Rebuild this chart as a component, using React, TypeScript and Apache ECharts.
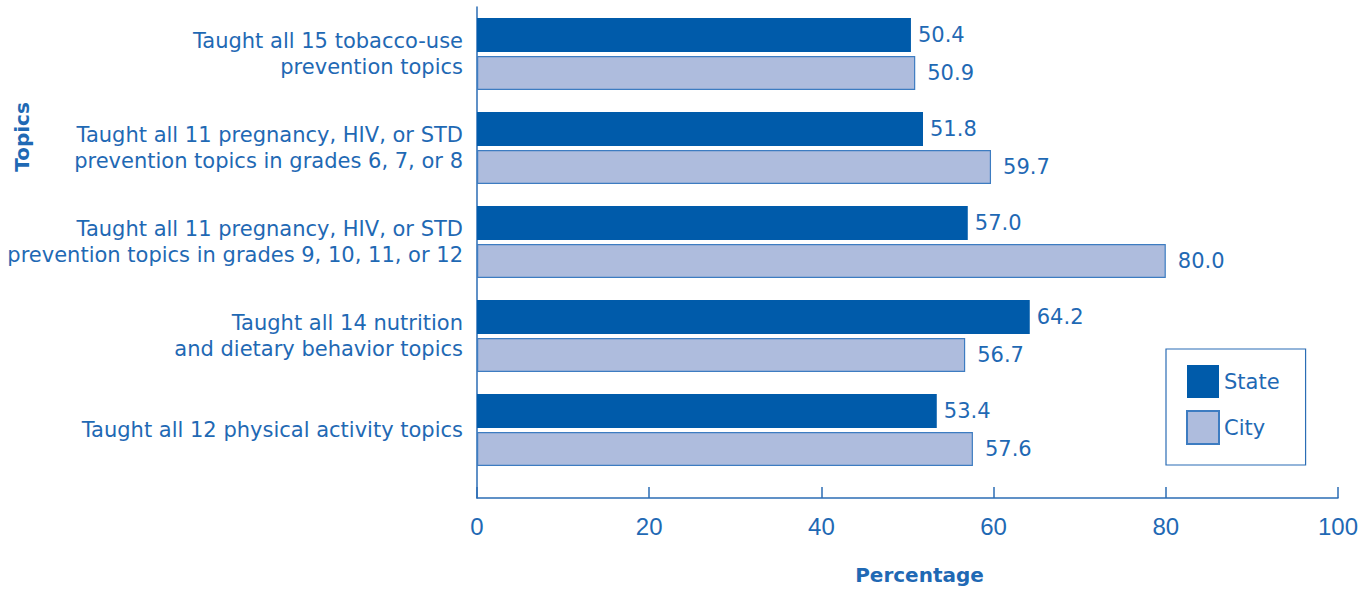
import React, { useEffect, useRef } from "react";
import * as echarts from "echarts";

const topics = [
  "Taught all 15 tobacco-use\nprevention topics",
  "Taught all 11 pregnancy, HIV, or STD\nprevention topics in grades 6, 7, or 8",
  "Taught all 11 pregnancy, HIV, or STD\nprevention topics in grades 9, 10, 11, or 12",
  "Taught all 14 nutrition\nand dietary behavior topics",
  "Taught all 12 physical activity topics",
];
const stateValues = [50.4, 51.8, 57.0, 64.2, 53.4];
const cityValues = [50.9, 59.7, 80.0, 56.7, 57.6];
const xTicks = [0, 20, 40, 60, 80, 100];

const TEXT = "#1f69b4";
const AXIS = "#2b6db5";
const STATE = "#005baa";
const CITY = "#aebcdd";
const CITY_BORDER = "#3d7cc1";
const FONT = "'DejaVu Sans', Verdana, sans-serif";
const TICK_FONT = "'Liberation Sans', Arial, Helvetica, sans-serif";

export default function App() {
  const ref = useRef<HTMLDivElement>(null);

  useEffect(() => {
    if (!ref.current) return;
    const chart = echarts.init(ref.current, null, { renderer: "svg" });
    const valueLabel = (distance: number) => ({
      show: true,
      position: "right",
      distance,
      color: TEXT,
      fontSize: 21,
      fontFamily: FONT,
      formatter: (p: any) => Number(p.value).toFixed(1),
    });
    chart.setOption({
      animation: false,
      textStyle: { fontFamily: FONT },
      grid: [
        { left: 477, right: 32, top: 7, height: 470, containLabel: false },
        { left: 477, right: 32, top: 7, height: 493, containLabel: false },
      ],
      legend: {
        orient: "vertical",
        left: 1166,
        top: 349,
        padding: [16, 26, 20, 20],
        icon: "rect",
        itemWidth: 32,
        itemHeight: 33,
        itemGap: 12,
        borderColor: AXIS,
        borderWidth: 1.2,
        borderRadius: 0,
        textStyle: { color: TEXT, fontSize: 21, fontFamily: FONT },
        data: ["State", "City"],
      },
      graphic: [
        {
          type: "text",
          x: 22,
          y: 137,
          rotation: Math.PI / 2,
          style: {
            text: "Topics",
            fill: TEXT,
            font: `bold 20px ${FONT}`,
            align: "center",
            verticalAlign: "middle",
          },
        },
      ],
      xAxis: [
        { type: "value", gridIndex: 0, min: 0, max: 100, show: false },
        {
          type: "value",
          gridIndex: 1,
          min: 0,
          max: 100,
          interval: 20,
          name: "Percentage",
          nameLocation: "middle",
          nameGap: 67,
          nameTextStyle: {
            color: TEXT,
            fontSize: 20,
            fontWeight: "bold",
            fontFamily: FONT,
            padding: [0, 0, 0, 24],
          },
          axisLine: { show: true, lineStyle: { color: AXIS, width: 1.5 } },
          axisTick: { show: true, inside: true, length: 11, lineStyle: { color: AXIS, width: 1.5 } },
          axisLabel: {
            color: TEXT,
            fontSize: 24,
            fontFamily: TICK_FONT,
            margin: 16,
            formatter: (v: number) => (xTicks.includes(v) ? String(v) : ""),
          },
          splitLine: { show: false },
        },
      ],
      yAxis: [
        {
          type: "category",
          gridIndex: 0,
          data: topics,
          inverse: true,
          axisLine: { show: false },
          axisTick: { show: false },
          axisLabel: {
            color: TEXT,
            fontSize: 21,
            lineHeight: 26,
            fontFamily: FONT,
            margin: 14,
            align: "right",
          },
        },
        {
          type: "value",
          gridIndex: 1,
          min: 0,
          max: 1,
          axisLine: { show: true, lineStyle: { color: AXIS, width: 1.5 } },
          axisTick: { show: false },
          axisLabel: { show: false },
          splitLine: { show: false },
        },
      ],
      series: [
        {
          name: "State",
          type: "bar",
          xAxisIndex: 0,
          yAxisIndex: 0,
          data: stateValues,
          barWidth: 34,
          barGap: "12%",
          itemStyle: { color: STATE },
          label: valueLabel(7),
        },
        {
          name: "City",
          type: "bar",
          xAxisIndex: 0,
          yAxisIndex: 0,
          data: cityValues,
          barWidth: 34,
          barGap: "12%",
          itemStyle: { color: CITY, borderColor: CITY_BORDER, borderWidth: 1.2 },
          label: valueLabel(12),
        },
      ],
    });
    return () => chart.dispose();
  }, []);

  return (
    <div
      ref={ref}
      style={{ position: "fixed", left: 0, top: 0, width: 1370, height: 590, background: "#fff" }}
    />
  );
}
